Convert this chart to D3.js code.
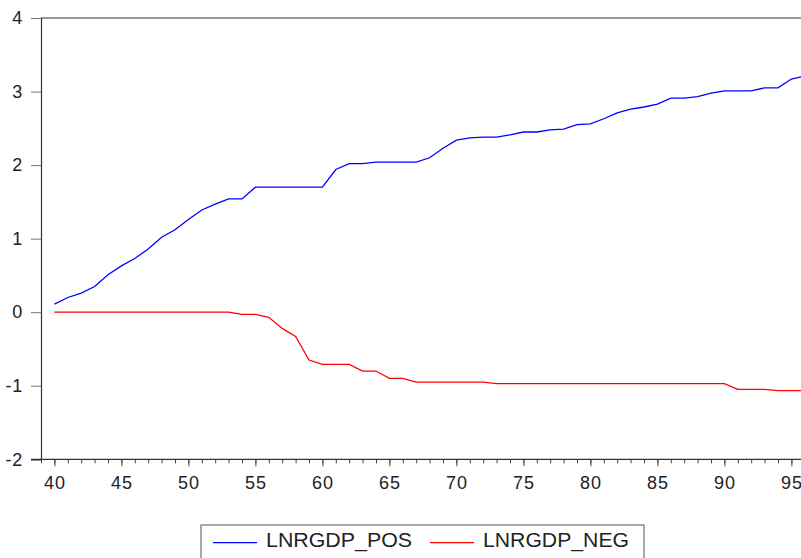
<!DOCTYPE html>
<html><head><meta charset="utf-8">
<script src="https://cdn.jsdelivr.net/npm/d3@7"></script>
<style>
html,body{margin:0;padding:0;background:#fff;overflow:hidden;}
text{font-family:"Liberation Sans",Arial,sans-serif;}
</style></head>
<body><svg id="chart" width="801" height="558"></svg>
<script>
const years = d3.range(40, 97);
const posValues = [0.11,0.20,0.26,0.35,0.51,0.63,0.73,0.86,1.02,1.12,
  1.26,1.39,1.47,1.54,1.54,1.70,1.70,1.70,1.70,1.70,
  1.70,1.94,2.02,2.02,2.04,2.04,2.04,2.04,2.10,2.23,
  2.34,2.37,2.38,2.38,2.41,2.45,2.45,2.48,2.49,2.55,
  2.56,2.63,2.71,2.76,2.79,2.83,2.91,2.91,2.93,2.98,
  3.01,3.01,3.01,3.05,3.05,3.17,3.21];
const negValues = [0,0,0,0,0,0,0,0,0,0,
  0,0,0,0,-0.03,-0.03,-0.07,-0.22,-0.33,-0.65,
  -0.71,-0.71,-0.71,-0.80,-0.80,-0.90,-0.90,-0.95,-0.95,-0.95,
  -0.95,-0.95,-0.95,-0.97,-0.97,-0.97,-0.97,-0.97,-0.97,-0.97,
  -0.97,-0.97,-0.97,-0.97,-0.97,-0.97,-0.97,-0.97,-0.97,-0.97,
  -0.97,-1.05,-1.05,-1.05,-1.065,-1.065,-1.065];
const seriesNames = ["LNRGDP_POS","LNRGDP_NEG"];
const seriesColors = ["#0000ff","#ff0000"];
const xTicks = [40,45,50,55,60,65,70,75,80,85,90,95];
const yTicks = [-2,-1,0,1,2,3,4];

const svg = d3.select("#chart");
const x = d3.scaleLinear().domain([39, 97]).range([41, 41 + 13.4*58]);
const y = d3.scaleLinear().domain([-2, 4]).range([459.3, 18]);
const fmt = d => String(d);

// frame top
svg.append("line").attr("x1",41).attr("x2",801).attr("y1",y(4)).attr("y2",y(4))
  .attr("stroke","#333").attr("stroke-width",1.2);

// y axis
const yAxis = svg.append("g").attr("transform","translate(41,0)")
  .call(d3.axisLeft(y).tickValues(yTicks).tickSize(10).tickPadding(8).tickFormat(fmt));
yAxis.select(".domain").attr("stroke","#333").attr("stroke-width",1.2);
yAxis.selectAll(".tick line").attr("stroke","#777");
yAxis.selectAll(".tick text").attr("font-size","18px").attr("fill","#222")
  .attr("letter-spacing","0.8px");

// x axis minor
const xMinor = svg.append("g").attr("transform",`translate(0,${y(-2)})`)
  .call(d3.axisBottom(x).tickValues(d3.range(39,97)).tickSize(4).tickFormat(""));
xMinor.select(".domain").remove();
xMinor.selectAll(".tick line").attr("stroke","#444");
const xAxis = svg.append("g").attr("transform",`translate(0,${y(-2)})`)
  .call(d3.axisBottom(x).tickValues(xTicks).tickSize(7).tickPadding(10).tickFormat(fmt));
xAxis.select(".domain").remove();
xAxis.selectAll(".tick line").attr("stroke","#444");
xAxis.selectAll(".tick text").attr("font-size","18px").attr("fill","#222")
  .attr("letter-spacing","0.8px");
svg.append("line").attr("x1",31).attr("x2",801).attr("y1",y(-2)).attr("y2",y(-2))
  .attr("stroke","#333").attr("stroke-width",1.2);

const line = d3.line().x((d,i)=>x(years[i])).y(d=>y(d));
[posValues, negValues].forEach((vals,k)=>{
  svg.append("path").datum(vals).attr("d",line).attr("fill","none")
    .attr("stroke",seriesColors[k]).attr("stroke-width",1.3);
});

// legend
const lg = svg.append("g");
lg.append("rect").attr("x",201).attr("y",525).attr("width",443).attr("height",40)
  .attr("fill","#fff").attr("stroke","#555").attr("stroke-width",1);
const lx = [213, 430];
seriesNames.forEach((n,k)=>{
  lg.append("line").attr("x1",lx[k]).attr("x2",lx[k]+44).attr("y1",542.7).attr("y2",542.7)
    .attr("stroke",seriesColors[k]).attr("stroke-width",1.3);
  lg.append("text").attr("x",lx[k]+53).attr("y",546.7).attr("font-size","20px").attr("fill","#222")
    .attr("textLength",146).attr("lengthAdjust","spacingAndGlyphs").text(n);
});
</script></body></html>
